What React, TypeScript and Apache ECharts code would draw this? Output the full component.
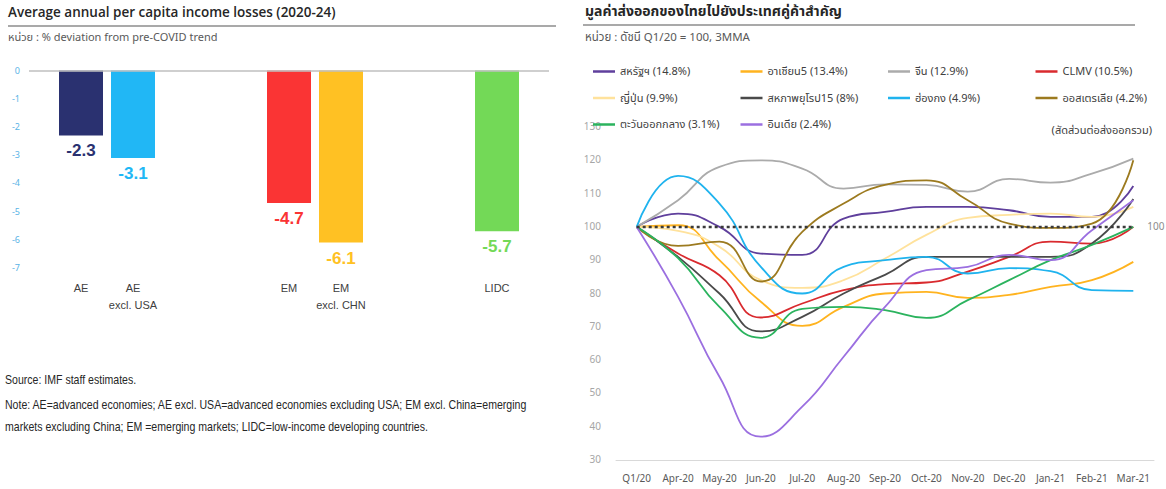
import React, { useEffect, useRef } from "react";
import * as echarts from "echarts";

// ---------- Left chart data ----------
const barCategories = ["", "AE", "AE\nexcl. USA", "", "", "EM", "EM\nexcl. CHN", "", "", "LIDC", ""];
const barValues: (number | null)[] = [null, -2.3, -3.1, null, null, -4.7, -6.1, null, null, -5.7, null];
const barColors = ["#000", "#2a3170", "#21b7f5", "#000", "#000", "#fa3434", "#ffc123", "#000", "#000", "#73d957", "#000"];
const barTicks = [0, -1, -2, -3, -4, -5, -6, -7];

// ---------- Right chart data ----------
const months = ["Q1/20", "Apr-20", "May-20", "Jun-20", "Jul-20", "Aug-20", "Sep-20", "Oct-20", "Nov-20", "Dec-20", "Jan-21", "Feb-21", "Mar-21"];
const us = [100, 104, 100, 92, 91.6, 102.5, 104.5, 106, 106, 105, 103, 103, 112.3];
const asean5 = [100, 100.5, 90, 77.5, 70.3, 76, 80, 80.5, 78.7, 79.6, 82, 84, 89.5];
const china = [100, 108, 118, 120, 117.5, 111.5, 112.8, 112.6, 110.6, 114.4, 113.3, 116, 120.5];
const clmv = [100, 92, 85.5, 72.8, 77, 81, 82.8, 83.3, 86.6, 91, 95.6, 95, 100];
const japan = [100, 98.8, 94, 84, 81.7, 84, 90.5, 97.6, 102.7, 103.6, 104, 103, 106];
const eu15 = [100, 91, 80, 68.6, 73, 80, 85.6, 91, 91, 91, 91, 95, 108.4];
const hongkong = [100, 115.3, 107, 88, 80, 88, 90, 91, 86, 87.6, 86.7, 81, 80.8];
const australia = [100, 94.3, 95.6, 83.6, 98.5, 107, 112.6, 114, 108, 101, 99.7, 101, 120];
const middleEast = [100, 90.6, 76, 66.7, 75.4, 76, 75, 72.7, 78, 84, 90, 94.6, 100];
const india = [100, 79, 55, 37, 46, 61, 76, 87, 88, 91.6, 90, 99, 108];
const baseline = [100, 100, 100, 100, 100, 100, 100, 100, 100, 100, 100, 100, 100];

const seriesNames = [
  "สหรัฐฯ (14.8%)", "อาเซียน5 (13.4%)", "จีน (12.9%)", "CLMV (10.5%)",
  "ญี่ปุ่น (9.9%)", "สหภาพยุโรป15 (8%)", "ฮ่องกง (4.9%)", "ออสเตรเลีย (4.2%)",
  "ตะวันออกกลาง (3.1%)", "อินเดีย (2.4%)",
];
const seriesData = [us, asean5, china, clmv, japan, eu15, hongkong, australia, middleEast, india];
const seriesColors = ["#5f3f9c", "#ffb31f", "#ababab", "#d92a2e", "#ffe29c", "#4a4a4a", "#1fb3ee", "#9c7a1f", "#2bb35e", "#9b6fe0"];

const FONT = "'Noto Sans Thai', Tahoma, 'Open Sans', 'Noto Sans', sans-serif";
const NARROW = "'Liberation Sans Narrow', 'Liberation Sans', Arial, sans-serif";

export default function App() {
  const ref = useRef<HTMLDivElement>(null);
  useEffect(() => {
    document.body.style.margin = "0";
    const chart = echarts.init(ref.current!, null, { renderer: "svg" });
    const lineSeries = seriesNames.map((name, i) => ({
      name,
      type: "line",
      xAxisIndex: 1,
      yAxisIndex: 1,
      data: seriesData[i],
      smooth: 0.5,
      symbol: "none",
      lineStyle: { color: seriesColors[i], width: 1.8 },
      itemStyle: { color: seriesColors[i] },
      z: 3,
    }));
    const noteStyle = { fontSize: 12, fill: "#262626", fontFamily: NARROW };
    chart.setOption({
      animation: false,
      textStyle: { fontFamily: FONT },
      grid: [
        { left: 29, right: 1166 - 549, top: 70.5, bottom: 489 - 268 },
        { left: 616, right: 12, top: 127, bottom: 29 },
      ],
      xAxis: [
        {
          type: "category",
          gridIndex: 0,
          data: barCategories,
          boundaryGap: false,
          axisLine: { show: false, onZero: false },
          axisTick: { show: false },
          axisLabel: { interval: 0, color: "#404040", fontSize: 11, fontFamily: NARROW, margin: 11, lineHeight: 17 },
        },
        {
          type: "category",
          gridIndex: 1,
          data: months,
          boundaryGap: true,
          axisLine: { lineStyle: { color: "#d9d9d9", width: 1 } },
          axisTick: { show: false },
          axisLabel: { interval: 0, color: "#595959", fontSize: 10, margin: 14 },
        },
      ],
      yAxis: [
        {
          type: "value",
          gridIndex: 0,
          min: -7,
          max: 0,
          interval: 1,
          axisLine: { show: false },
          axisTick: { show: false },
          splitLine: { show: false },
          axisLabel: { color: "#5ab4e6", fontSize: 9, margin: 9, formatter: (v: number) => (barTicks.includes(v) ? String(v) : "") },
        },
        {
          type: "value",
          gridIndex: 1,
          min: 30,
          max: 130,
          interval: 10,
          axisLine: { show: false },
          axisTick: { show: false },
          splitLine: { show: false },
          axisLabel: { color: "#a6a6a6", fontSize: 10, margin: 15 },
        },
      ],
      legend: {
        left: 588,
        top: 56,
        width: 600,
        orient: "horizontal",
        icon: "rect",
        itemWidth: 22,
        itemHeight: 2.5,
        itemGap: 5.5,
        data: seriesNames,
        textStyle: { color: "#404040", fontSize: 11, width: 115, lineHeight: 21, fontFamily: FONT },
      },
      series: [
        {
          type: "bar",
          xAxisIndex: 0,
          yAxisIndex: 0,
          data: barValues.map((v, i) => ({ value: v, itemStyle: { color: barColors[i] }, label: { color: barColors[i] } })),
          barWidth: 44,
          label: {
            show: true,
            position: "bottom",
            distance: 7,
            fontSize: 17,
            fontWeight: "bold",
            fontFamily: NARROW,
          },
          markLine: {
            silent: true,
            symbol: "none",
            label: { show: false },
            lineStyle: { color: "#bfbfbf", width: 1.5, type: "solid" },
            data: [{ yAxis: 0 }],
          },
        },
        ...lineSeries,
        {
          name: "base",
          type: "line",
          xAxisIndex: 1,
          yAxisIndex: 1,
          data: baseline,
          symbol: "none",
          lineStyle: { color: "#3a3a3a", width: 2.5, type: [3, 3] },
          endLabel: { show: true, formatter: "100", color: "#8c8c8c", fontSize: 10, distance: 14 },
          z: 4,
        },
      ],
      graphic: [
        { type: "text", left: 8, top: 5, style: { text: "Average annual per capita income losses (2020-24)", fontSize: 13.5, fontWeight: 600, fill: "#262626", fontFamily: "'Open Sans', sans-serif" } },
        { type: "line", shape: { x1: 8, y1: 26, x2: 556, y2: 26 }, style: { stroke: "#8c8c8c", lineWidth: 1.5 } },
        { type: "text", left: 8, top: 32, style: { text: "หน่วย : % deviation from pre-COVID trend", fontSize: 11, fill: "#595959", fontFamily: FONT } },
        { type: "text", x: 5, y: 374, scaleX: 0.88, style: { text: "Source: IMF staff estimates.", ...noteStyle } },
        { type: "text", x: 5, y: 399, scaleX: 0.88, style: { text: "Note: AE=advanced economies; AE excl. USA=advanced economies excluding USA; EM excl. China=emerging", ...noteStyle } },
        { type: "text", x: 5, y: 421, scaleX: 0.88, style: { text: "markets excluding China; EM =emerging markets; LIDC=low-income developing countries.", ...noteStyle } },
        { type: "text", left: 585, top: 4, style: { text: "มูลค่าส่งออกของไทยไปยังประเทศคู่ค้าสำคัญ", fontSize: 14, fontWeight: "bold", fill: "#262626", fontFamily: FONT } },
        { type: "line", shape: { x1: 583, y1: 25, x2: 1135, y2: 25 }, style: { stroke: "#8c8c8c", lineWidth: 1.5 } },
        { type: "text", left: 585, top: 31, style: { text: "หน่วย : ดัชนี Q1/20 = 100, 3MMA", fontSize: 11.5, fill: "#595959", fontFamily: FONT } },
        { type: "text", right: 14, top: 125, style: { text: "(สัดส่วนต่อส่งออกรวม)", fontSize: 11, fill: "#404040", fontFamily: FONT } },
      ],
    });
    return () => chart.dispose();
  }, []);
  return <div ref={ref} style={{ width: 1166, height: 489 }} />;
}
